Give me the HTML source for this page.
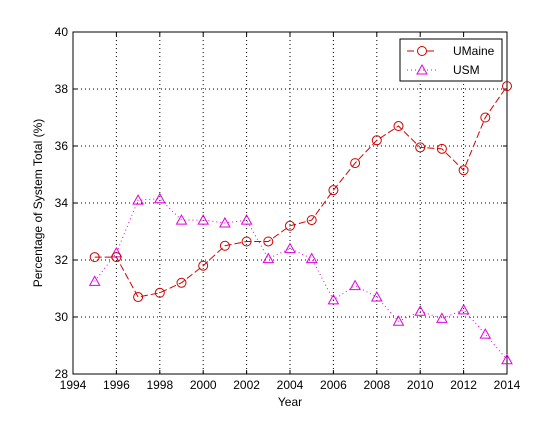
<!DOCTYPE html>
<html><head><meta charset="utf-8"><style>
html,body{margin:0;padding:0;background:#fff;}
svg text{font-family:"Liberation Sans",Arial,sans-serif;font-size:12px;fill:#000;}
</style></head><body>
<svg id="chart" width="560" height="420" xmlns="http://www.w3.org/2000/svg">
<rect x="0" y="0" width="560" height="420" fill="#fff"/>
<g id="grid"></g><g id="axes"></g><g id="series"></g><g id="legend"></g>
</svg>
<script>
const years=[1995,1996,1997,1998,1999,2000,2001,2002,2003,2004,2005,2006,2007,2008,2009,2010,2011,2012,2013,2014];
const umaine=[32.1,32.1,30.7,30.85,31.2,31.8,32.5,32.65,32.65,33.2,33.4,34.45,35.4,36.2,36.7,35.95,35.9,35.15,37.0,38.1];
const usm=[31.25,32.25,34.1,34.15,33.4,33.4,33.3,33.4,32.05,32.4,32.05,30.6,31.1,30.7,29.85,30.2,29.95,30.25,29.4,28.5];
const xTicks=[1994,1996,1998,2000,2002,2004,2006,2008,2010,2012,2014];
const yTicks=[28,30,32,34,36,38,40];
const L=73,R=507,T=32,B=374;
const xs=v=>L+(v-1994)/20*(R-L);
const ys=v=>B-(v-28)/12*(B-T);
const NS="http://www.w3.org/2000/svg";
function mk(tag,attrs,parent){const e=document.createElementNS(NS,tag);for(const k in attrs)e.setAttribute(k,attrs[k]);parent.appendChild(e);return e;}
const grid=document.getElementById('grid'),axes=document.getElementById('axes'),ser=document.getElementById('series'),leg=document.getElementById('legend');
xTicks.forEach(t=>{const x=xs(t);
 if(t>1994&&t<2014){const g=mk('line',{x1:x,x2:x,y1:T,y2:B,stroke:'#000','stroke-width':1,'stroke-dasharray':'1,3'},grid);
 
 }
 mk('line',{x1:x,x2:x,y1:B,y2:B-4,stroke:'#000'},axes);mk('line',{x1:x,x2:x,y1:T,y2:T+4,stroke:'#000'},axes);
 const tx=mk('text',{x:x,y:B+15,'text-anchor':'middle'},axes);tx.textContent=t;
 
 
});
yTicks.forEach(t=>{const y=ys(t);
 if(t>28&&t<40){const g=mk('line',{x1:L,x2:R,y1:y,y2:y,stroke:'#000','stroke-width':1,'stroke-dasharray':'1,3'},grid);
 
 }
 mk('line',{x1:L,x2:L+4,y1:y,y2:y,stroke:'#000'},axes);mk('line',{x1:R,x2:R-4,y1:y,y2:y,stroke:'#000'},axes);
 const tx=mk('text',{x:L-5,y:y+4,'text-anchor':'end'},axes);tx.textContent=t;
 
 
});
const box=mk('rect',{x:L,y:T,width:R-L,height:B-T,fill:'none',stroke:'#000'},axes);


const xt=mk('text',{x:(L+R)/2,y:406,'text-anchor':'middle'},axes);xt.textContent='Year';


const yt=mk('text',{x:0,y:0,'text-anchor':'middle',transform:`translate(42,${(T+B)/2}) rotate(-90)`},axes);yt.textContent='Percentage of System Total (%)';


function tri(x,y,c,p){return mk('polygon',{points:`${x},${y-5} ${x-5},${y+4} ${x+5},${y+4}`,fill:'none',stroke:c},p);}
const pu=mk('polyline',{points:years.map((y,i)=>xs(y)+','+ys(usm[i])).join(' '),fill:'none',stroke:'#e000e0','stroke-dasharray':'1,3'},ser);


years.forEach((y,i)=>{const m=tri(xs(y),ys(usm[i]),'#e000e0',ser);
 
 });
const pm=mk('polyline',{points:years.map((y,i)=>xs(y)+','+ys(umaine[i])).join(' '),fill:'none',stroke:'#d00000','stroke-dasharray':'7,3'},ser);


years.forEach((y,i)=>{const m=mk('circle',{cx:xs(y),cy:ys(umaine[i]),r:4.5,fill:'none',stroke:'#d00000'},ser);
 
 });
const lb=mk('rect',{x:400,y:39,width:102,height:42,fill:'#fff',stroke:'#000'},leg);


mk('line',{x1:407,x2:437,y1:51,y2:51,stroke:'#d00000','stroke-dasharray':'7,3'},leg);
mk('circle',{cx:422,cy:51,r:4.5,fill:'#fff',stroke:'#d00000'},leg);
const t1=mk('text',{x:453,y:55},leg);t1.textContent='UMaine';


mk('line',{x1:407,x2:437,y1:70,y2:70,stroke:'#e000e0','stroke-dasharray':'1,3'},leg);
tri(422,70,'#e000e0',leg);
const t2=mk('text',{x:453,y:74},leg);t2.textContent='USM';


</script>
</body></html>
